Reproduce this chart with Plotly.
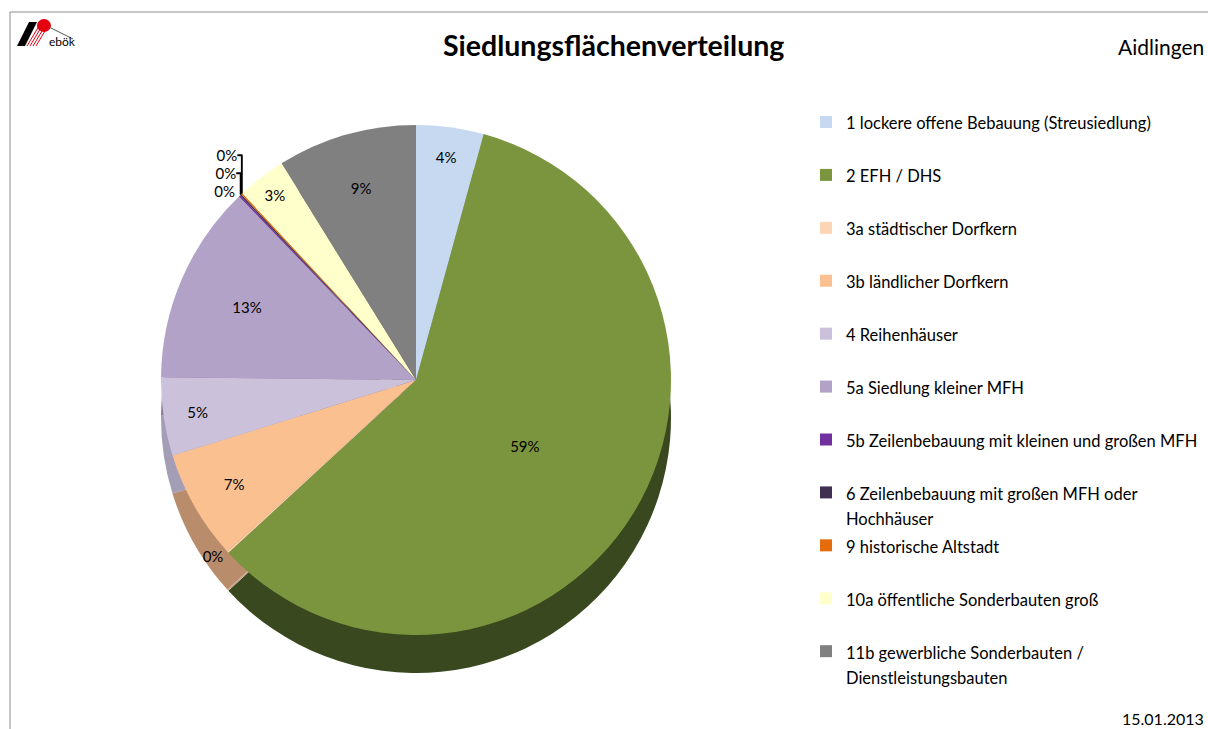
import plotly.graph_objects as go

W, H = 1208, 729

categories = [
    "1 lockere offene Bebauung (Streusiedlung)",
    "2 EFH / DHS",
    "3a städtischer Dorfkern",
    "3b ländlicher Dorfkern",
    "4 Reihenhäuser",
    "5a Siedlung kleiner MFH",
    "5b Zeilenbebauung mit kleinen und großen MFH",
    "6 Zeilenbebauung mit großen MFH oder<br>Hochhäuser",
    "9 historische Altstadt",
    "10a öffentliche Sonderbauten groß",
    "11b gewerbliche Sonderbauten /<br>Dienstleistungsbauten",
]
shares = [4.3, 59.3, 0.1, 7.0, 5.0, 12.7, 0.1, 0.1, 0.1, 3.1, 8.9]
colors = ["#C6D9F1", "#7A953D", "#FCD5B5", "#FAC090", "#CCC1DA", "#B3A2C7",
          "#7030A0", "#403152", "#E46C0A", "#FFFFCC", "#808080"]
side_colors = ["#97A6B8", "#39481E", "#C4A48A", "#B98C6C", "#A39DB5", "#8A7C9C",
               "#53237A", "#2E2340", "#A84F08", "#C8C8A0", "#5E5E5E"]

FONT = "Lato"


def px(x):
    return x / W


def py(y):
    return 1 - y / H


legend_labels = []
for c in categories:
    txt = c if "<br>" in c else c + "<br> "
    legend_labels.append(f'<span style="font-size:16.5px">{txt}</span>')

positions = ["inside" if v >= 1 else "outside" for v in shares]

# top face and side wall geometry (pixels)
X0, X1 = 161, 671
Y0, Y1 = 125, 635
DEPTH = 38

fig = go.Figure()

# darker copy shifted down: the side wall of the 3-D pie
fig.add_trace(go.Pie(
    labels=legend_labels,
    values=shares,
    sort=False,
    direction="clockwise",
    rotation=0,
    marker=dict(colors=side_colors, line=dict(width=0)),
    textinfo="none",
    hoverinfo="skip",
    showlegend=False,
    domain=dict(x=[px(X0), px(X1)], y=[py(Y1 + DEPTH), py(Y0 + DEPTH)]),
))

fig.add_trace(go.Pie(
    labels=legend_labels,
    values=shares,
    sort=False,
    direction="clockwise",
    rotation=0,
    marker=dict(colors=colors, line=dict(width=0)),
    texttemplate="%{percent:.0%}",
    textposition=positions,
    insidetextorientation="horizontal",
    textfont=dict(family=FONT, size=15, color="#000000"),
    domain=dict(x=[px(X0), px(X1)], y=[py(Y1), py(Y0)]),
    hoverinfo="label+percent",
))

shapes = [
    dict(type="line", xref="paper", yref="paper", x0=px(10), y0=py(12), x1=1.0, y1=py(12),
         line=dict(color="#8C8C8C", width=1)),
    dict(type="line", xref="paper", yref="paper", x0=px(10), y0=py(12), x1=px(10), y1=0,
         line=dict(color="#8C8C8C", width=1)),
    dict(type="path", xref="paper", yref="paper",
         path=f"M {px(17)},{py(46)} L {px(29)},{py(22)} L {px(37)},{py(22)} L {px(25)},{py(46)} Z",
         fillcolor="#000000", line=dict(width=0)),
    dict(type="circle", xref="paper", yref="paper", x0=px(37), y0=py(32), x1=px(51), y1=py(19),
         fillcolor="#E3000F", line=dict(width=0)),
    dict(type="line", xref="paper", yref="paper", x0=px(49), y0=py(27), x1=px(73), y1=py(39),
         line=dict(color="#555555", width=1)),
]
for k in range(4):
    shapes.append(dict(type="line", xref="paper", yref="paper",
                       x0=px(27 + 3 * k), y0=py(46), x1=px(39 + 3 * k), y1=py(26),
                       line=dict(color="#E3000F", width=1)))

annotations = [
    dict(text="ebök", xref="paper", yref="paper", x=px(47), y=py(42), xanchor="left", yanchor="middle",
         showarrow=False, font=dict(family=FONT, size=12, color="#000000")),
    dict(text="<b>Siedlungsflächenverteilung</b>", xref="paper", yref="paper", x=px(613), y=py(45),
         xanchor="center", yanchor="middle", showarrow=False,
         font=dict(family=FONT, size=28.5, color="#000000")),
    dict(text="Aidlingen", xref="paper", yref="paper", x=px(1206), y=py(47),
         xanchor="right", yanchor="middle", showarrow=False,
         font=dict(family=FONT, size=21, color="#000000")),
    dict(text="15.01.2013", xref="paper", yref="paper", x=px(1206), y=py(718),
         xanchor="right", yanchor="middle", showarrow=False,
         font=dict(family=FONT, size=16, color="#000000")),
]

fig.update_layout(
    width=W, height=H,
    autosize=False,
    margin=dict(l=0, r=0, t=0, b=0),
    paper_bgcolor="#FFFFFF",
    plot_bgcolor="#FFFFFF",
    font=dict(family=FONT, color="#000000"),
    showlegend=True,
    legend=dict(
        x=px(806), y=py(103), xanchor="left", yanchor="top",
        font=dict(family=FONT, size=19.2, color="#000000"),
        valign="top",
        bgcolor="rgba(0,0,0,0)",
        traceorder="normal",
    ),
    shapes=shapes,
    annotations=annotations,
)

fig.write_html(
    "out.html",
    config={"displayModeBar": False, "responsive": False},
    post_script="document.body.style.margin='0';document.body.style.overflow='hidden';",
)
